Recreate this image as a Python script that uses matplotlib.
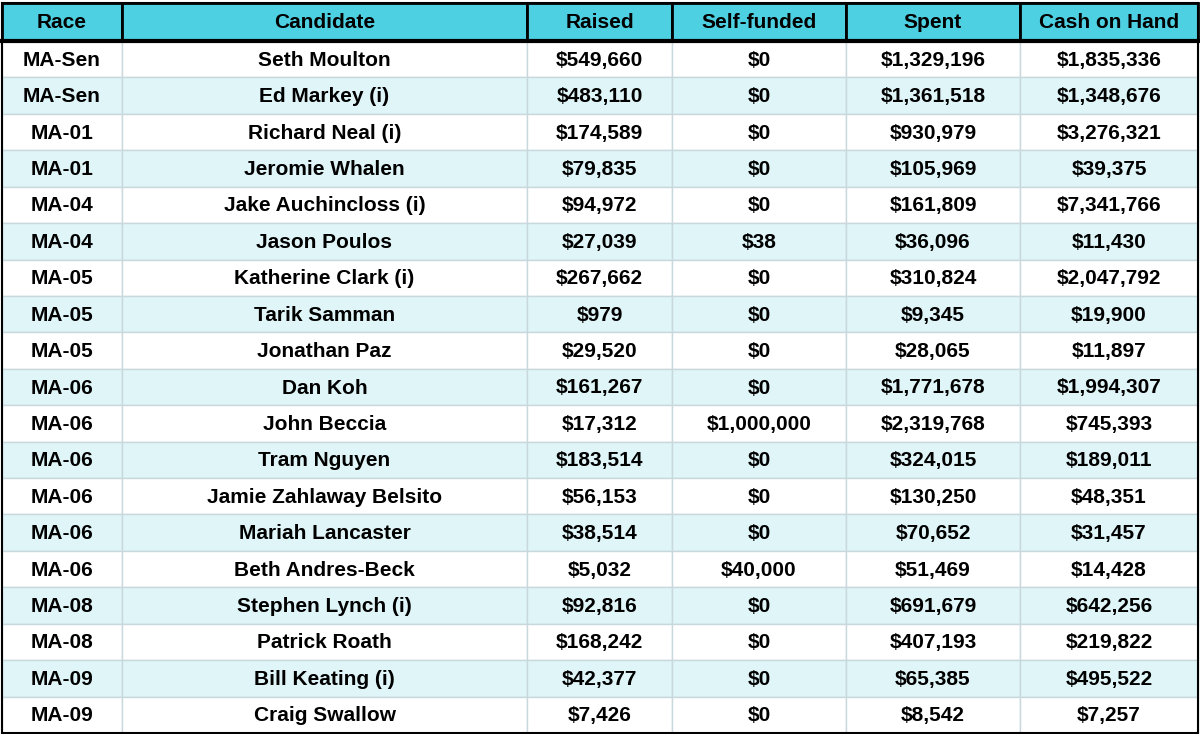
import matplotlib.pyplot as plt
from matplotlib.patches import Rectangle

headers = ["Race", "Candidate", "Raised", "Self-funded", "Spent", "Cash on Hand"]
races = ["MA-Sen", "MA-Sen", "MA-01", "MA-01", "MA-04", "MA-04", "MA-05", "MA-05", "MA-05",
         "MA-06", "MA-06", "MA-06", "MA-06", "MA-06", "MA-06", "MA-08", "MA-08", "MA-09", "MA-09"]
candidates = ["Seth Moulton", "Ed Markey (i)", "Richard Neal (i)", "Jeromie Whalen",
              "Jake Auchincloss (i)", "Jason Poulos", "Katherine Clark (i)", "Tarik Samman",
              "Jonathan Paz", "Dan Koh", "John Beccia", "Tram Nguyen", "Jamie Zahlaway Belsito",
              "Mariah Lancaster", "Beth Andres-Beck", "Stephen Lynch (i)", "Patrick Roath",
              "Bill Keating (i)", "Craig Swallow"]
raised = [549660, 483110, 174589, 79835, 94972, 27039, 267662, 979, 29520, 161267, 17312,
          183514, 56153, 38514, 5032, 92816, 168242, 42377, 7426]
self_funded = [0, 0, 0, 0, 0, 38, 0, 0, 0, 0, 1000000, 0, 0, 0, 40000, 0, 0, 0, 0]
spent = [1329196, 1361518, 930979, 105969, 161809, 36096, 310824, 9345, 28065, 1771678,
         2319768, 324015, 130250, 70652, 51469, 691679, 407193, 65385, 8542]
cash = [1835336, 1348676, 3276321, 39375, 7341766, 11430, 2047792, 19900, 11897, 1994307,
        745393, 189011, 48351, 31457, 14428, 642256, 219822, 495522, 7257]

col_edges = [2, 122, 527, 672, 846, 1020, 1198]
header_top, header_bot = 3, 41
row_h = (733 - header_bot) / len(races)

fig = plt.figure(figsize=(12, 7.34), dpi=100)
ax = fig.add_axes([0, 0, 1, 1])
ax.set_xlim(0, 1200)
ax.set_ylim(734, 0)
ax.axis("off")

font = dict(family=["Liberation Sans", "DejaVu Sans"], fontweight="bold", fontsize=15,
            ha="center", va="center", color="black")

# header
for i, h in enumerate(headers):
    x0, x1 = col_edges[i], col_edges[i + 1]
    ax.add_patch(Rectangle((x0, header_top), x1 - x0, header_bot - header_top,
                           facecolor="#4dd0e1", edgecolor="black", linewidth=2))
    ax.text((x0 + x1) / 2, (header_top + header_bot) / 2, h, **font)

fmt = lambda v: f"${v:,}"
rows = list(zip(races, candidates, map(fmt, raised), map(fmt, self_funded),
                map(fmt, spent), map(fmt, cash)))
for r, vals in enumerate(rows):
    y0 = header_bot + r * row_h
    bg = "white" if r % 2 == 0 else "#dff5f8"
    for i, v in enumerate(vals):
        x0, x1 = col_edges[i], col_edges[i + 1]
        ax.add_patch(Rectangle((x0, y0), x1 - x0, row_h, facecolor=bg,
                               edgecolor="#c8d8dc", linewidth=1))
        ax.text((x0 + x1) / 2, y0 + row_h / 2 + 1, v, **font)

# outer border and header separator
ax.add_patch(Rectangle((col_edges[0], header_top), col_edges[-1] - col_edges[0],
                       733 - header_top, facecolor="none", edgecolor="black", linewidth=1.5))
ax.plot([col_edges[0], col_edges[-1]], [header_bot, header_bot], color="black", linewidth=3)

fig.savefig("out.png", dpi=100)
